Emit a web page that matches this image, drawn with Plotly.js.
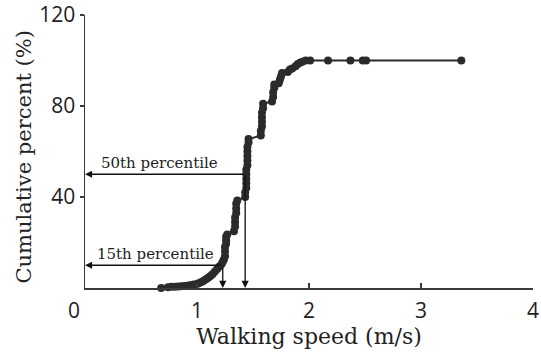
<!DOCTYPE html>
<html>
<head>
<meta charset="utf-8">
<script src="https://cdn.plot.ly/plotly-3.0.1.min.js"></script>
<style>html,body{margin:0;padding:0;background:#fff;}#chart{width:541px;height:352px;}</style>
</head>
<body>
<div id="chart"></div>
<script>
const speed = [
  0.68, 0.74, 0.77, 0.80, 0.83, 0.86, 0.89, 0.92, 0.95, 0.97,
  1.00, 1.02, 1.04, 1.06, 1.08, 1.10, 1.12, 1.14, 1.16, 1.18,
  1.20, 1.22, 1.23,
  1.24, 1.25, 1.25, 1.25, 1.26, 1.26, 1.26, 1.27,
  1.33, 1.34, 1.34, 1.34, 1.35, 1.35, 1.35, 1.36,
  1.43, 1.43, 1.44, 1.44, 1.44, 1.44, 1.44, 1.45, 1.45, 1.45, 1.45, 1.45, 1.46, 1.46,
  1.57, 1.57, 1.58, 1.58, 1.58, 1.58, 1.59, 1.59,
  1.67, 1.68, 1.68, 1.69, 1.69,
  1.73, 1.74, 1.75, 1.76,
  1.81, 1.83, 1.85,
  1.88, 1.90, 1.92, 1.94,
  1.97, 2.01, 2.17, 2.37, 2.48, 2.51, 3.36
];
// Cumulative percent (%) at each observation
const percent = [
  0.0, 0.3, 0.5, 0.6, 0.7, 0.8, 0.9, 1.1, 1.3, 1.5,
  1.8, 2.2, 2.6, 3.2, 3.8, 4.5, 5.3, 6.2, 7.2, 8.3,
  9.5, 10.5, 11.5,
  12.5, 14, 16, 18, 19.5, 21, 22.5, 23.5,
  25, 27, 29, 31, 33, 35, 37, 38.5,
  40, 42, 44, 46, 48, 50, 52, 54, 56, 58, 60, 62, 64, 65.5,
  67, 69, 71, 73, 75, 77, 79, 81,
  82, 84, 86, 88, 89.5,
  90, 91.5, 93, 94.5,
  95, 96, 96.5,
  97.5, 98.5, 99, 99.5,
  100, 100, 100, 100, 100, 100, 100
];
// Percentile markers
const pctLabels = ["50th percentile", "15th percentile"];
const pctSpeed = [1.43, 1.23];
const pctValue = [50, 10];
const pctLabelX = [0.125, 0.09];

const xTickVals = [0, 1, 2, 3, 4];
const xTickText = ["0\u00a0\u00a0\u00a0\u00a0", "1", "2", "3", "4"];
const yTickVals = [40, 80, 120];
const yTickText = ["40", "80", "120"];
const xTitle = 'Walking speed (m/s)';
const yTitle = 'Cumulative percent (%)';

const ink = '#2b2b2b';
const axisCol = '#3a3a3a';
const fam = '"DejaVu Serif", serif';
const tickFam = '"Open Sans", sans-serif';

const trace = {
  x: speed, y: percent, type: 'scatter', mode: 'lines+markers',
  line: {color: ink, width: 2},
  marker: {color: ink, size: 8},
  cliponaxis: false, hoverinfo: 'skip'
};

const annotations = [];
for (let i = 0; i < pctLabels.length; i++) {
  annotations.push({
    x: 0, y: pctValue[i], ax: pctSpeed[i], ay: pctValue[i],
    xref: 'x', yref: 'y', axref: 'x', ayref: 'y',
    text: '', showarrow: true, arrowhead: 2, arrowsize: 1.1, arrowwidth: 1.3,
    arrowcolor: '#111', standoff: 0
  });
  annotations.push({
    x: pctSpeed[i], y: 0, ax: pctSpeed[i], ay: pctValue[i],
    xref: 'x', yref: 'y', axref: 'x', ayref: 'y',
    text: '', showarrow: true, arrowhead: 2, arrowsize: 1.1, arrowwidth: 1.3,
    arrowcolor: '#111', standoff: 0
  });
  annotations.push({
    x: pctLabelX[i], y: pctValue[i], xref: 'x', yref: 'y',
    text: pctLabels[i], showarrow: false, xanchor: 'left', yanchor: 'bottom',
    yshift: 0, font: {family: fam, size: 15, color: '#222'}
  });
}
// y-axis title placed as a rotated annotation for precise positioning
annotations.push({
  text: yTitle, xref: 'paper', yref: 'paper', x: -0.137, y: 0.48,
  xanchor: 'center', yanchor: 'middle', textangle: -90, showarrow: false,
  font: {family: fam, size: 21, color: '#222'}
});

const layout = {
  width: 541, height: 352,
  margin: {l: 85, r: 8, t: 15, b: 64},
  paper_bgcolor: '#fff', plot_bgcolor: '#fff',
  showlegend: false,
  font: {family: fam, color: '#222'},
  xaxis: {
    range: [0, 4], tickvals: xTickVals, ticktext: xTickText,
    ticks: 'inside', ticklen: 5, tickwidth: 1.5, tickcolor: axisCol,
    showline: true, linecolor: axisCol, linewidth: 1.5,
    showgrid: false, zeroline: false, ticklabelstandoff: 3,
    tickfont: {family: tickFam, size: 21, color: '#222'},
    title: {text: xTitle, font: {family: fam, size: 22, color: '#222'}, standoff: 2}
  },
  yaxis: {
    range: [0, 120], tickvals: yTickVals, ticktext: yTickText,
    ticks: 'outside', ticklen: 4, tickwidth: 1.5, tickcolor: axisCol,
    showline: true, linecolor: axisCol, linewidth: 1.5,
    showgrid: false, zeroline: false,
    tickfont: {family: tickFam, size: 21, color: '#222'}
  },
  annotations: annotations
};

Plotly.newPlot('chart', [trace], layout, {staticPlot: true, displayModeBar: false});
</script>
</body>
</html>
